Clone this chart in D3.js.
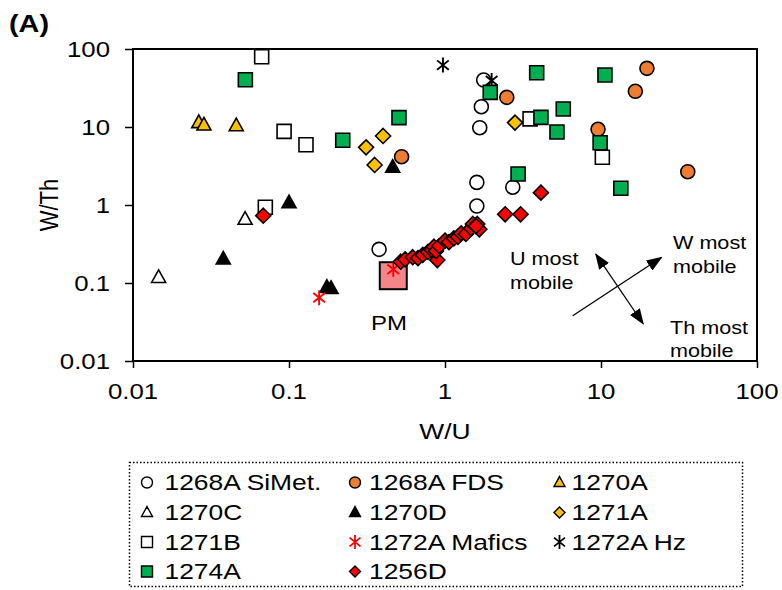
<!DOCTYPE html>
<html>
<head>
<meta charset="utf-8">
<script src="https://cdn.jsdelivr.net/npm/d3@7"></script>
<style>
  body { margin: 0; background: #fff; }
  svg { display: block; }
  text { font-family: "Liberation Sans", Arial, sans-serif; fill: #000; }
</style>
</head>
<body>
<svg id="chart" width="782" height="590"></svg>
<script>
// ---- data: [W/U, W/Th] pairs for each sample group ----
const majorTicks = [0.01, 0.1, 1, 10, 100];
const xTickLabels = ["0.01", "0.1", "1", "10", "100"];
const yTickLabels = ["0.01", "0.1", "1", "10", "100"];

const siMet1268A = [[1.77, 40], [1.71, 18.2], [1.67, 9.8], [1.6, 1.95], [2.72, 1.69], [1.6, 0.97], [0.378, 0.27]];
const fds1268A = [[0.527, 4.16], [2.49, 24], [19.7, 56.5], [16.6, 28.7], [9.57, 9.34], [36, 2.67]];
const s1270A = [[0.0264, 11.4], [0.0285, 10.6], [0.0459, 10.4]];
const s1270C = [[0.0523, 0.656], [0.0146, 0.118]];
const s1270D = [[0.1, 1.07], [0.0379, 0.203], [0.175, 0.088], [0.186, 0.085], [0.462, 3.05]];
const s1271A = [[0.401, 7.67], [0.312, 5.49], [0.354, 3.26], [2.81, 11.4]];
const s1271B = [[0.0668, 79.6], [0.093, 8.8], [0.1285, 5.93], [0.0705, 0.934], [3.51, 12.7], [10.2, 4.09]];
const mafics1272A = [[0.156, 0.0648], [0.466, 0.15]];
const hz1272A = [[0.97, 62.3], [1.99, 39.4]];
const s1274A = [[0.0525, 40.4], [0.221, 6.75], [0.507, 13.2], [1.95, 27.8], [3.87, 49.7], [4.12, 13.3],
                [5.73, 17.0], [5.22, 8.63], [10.6, 46.4], [9.87, 6.29], [2.94, 2.5], [13.4, 1.64]];
const s1256D = [[0.0684, 0.729], [0.52, 0.1875], [0.555, 0.201], [0.621, 0.214], [0.671, 0.209], [0.72, 0.229],
                [0.778, 0.25], [0.822, 0.265], [0.85, 0.292], [0.893, 0.197], [0.875, 0.257], [0.919, 0.298],
                [1.0, 0.349], [1.06, 0.335], [1.14, 0.374], [1.21, 0.389], [1.27, 0.434], [1.36, 0.425],
                [1.47, 0.503], [1.51, 0.571], [1.61, 0.571], [1.66, 0.488], [1.58, 0.538],
                [2.43, 0.76], [3.05, 0.76], [4.12, 1.44]];
const primitiveMantle = [0.466, 0.124];

const seriesNames = ["1268A SiMet.", "1268A FDS", "1270A", "1270C", "1270D", "1271A",
                     "1271B", "1272A Mafics", "1272A Hz", "1274A", "1256D"];
const seriesValues = [siMet1268A, fds1268A, s1270A, s1270C, s1270D, s1271A,
                      s1271B, mafics1272A, hz1272A, s1274A, s1256D];

// marker look per series
const seriesStyle = [
  { shape: "circle",   fill: "#ffffff" },
  { shape: "circle",   fill: "#ED7D31" },
  { shape: "triangle", fill: "#FFC000" },
  { shape: "triangle", fill: "#ffffff" },
  { shape: "triangle", fill: "#000000" },
  { shape: "diamond",  fill: "#FFC000" },
  { shape: "square",   fill: "#ffffff" },
  { shape: "star",     fill: "none", stroke: "#FF0000" },
  { shape: "star",     fill: "none", stroke: "#000000" },
  { shape: "square",   fill: "#00B050" },
  { shape: "diamond",  fill: "#FF0000" }
];

// ---- layout ----
const svg = d3.select("#chart");
const plot = { left: 133, right: 757, top: 49, bottom: 361 };
const STRETCH = 1.2;   // text is set in a slightly widened face

const x = d3.scaleLog().domain([0.01, 100]).range([plot.left, plot.right]);
const y = d3.scaleLog().domain([0.01, 100]).range([plot.bottom, plot.top]);

// minor ticks 2..9 in each decade
const minorTicks = [];
for (let d = 0; d < 4; d++) {
  for (let m = 2; m <= 9; m++) minorTicks.push(m * Math.pow(10, d - 2));
}

// widened text helper: anchor point (tx, ty), optional rotation
function label(parent, tx, ty, str, size, anchor = "start", opts = {}) {
  const g = parent.append("g")
    .attr("transform", `translate(${tx},${ty}) scale(${STRETCH},1)` + (opts.rotate ? ` rotate(${opts.rotate})` : ""));
  const t = g.append("text").attr("text-anchor", anchor).style("font-size", size + "px").text(str);
  if (opts.bold) t.style("font-weight", "bold");
  if (opts.dy) t.attr("dy", opts.dy);
  return t;
}

// ---- marker paths ----
function markerPath(shape, s) {
  const h = s / 2;
  switch (shape) {
    case "circle":
      return `M${h},0A${h},${h} 0 1,1 ${-h},0A${h},${h} 0 1,1 ${h},0Z`;
    case "square":
      return `M${-h},${-h}H${h}V${h}H${-h}Z`;
    case "diamond":
      return `M0,${-h}L${h},0L0,${h}L${-h},0Z`;
    case "triangle": {
      const th = s * 0.9;
      return `M0,${-th * 0.6}L${h},${th * 0.4}L${-h},${th * 0.4}Z`;
    }
    case "star": {
      const dx = h * 0.78, dy = h * 0.62;
      return `M0,${-h}V${h}M${-dx},${-dy}L${dx},${dy}M${dx},${-dy}L${-dx},${dy}`;
    }
  }
}

// ---- axes (tick marks from d3 axes, labels set separately) ----
const xMajor = d3.axisBottom(x).tickValues(majorTicks).tickSize(7).tickFormat("");
const xMinor = d3.axisBottom(x).tickValues(minorTicks).tickSize(5).tickFormat("");
const yMajor = d3.axisLeft(y).tickValues(majorTicks).tickSize(8).tickFormat("");
const yMinor = d3.axisLeft(y).tickValues(minorTicks).tickSize(5).tickFormat("");

const gx = svg.append("g").attr("transform", `translate(0,${plot.bottom})`);
gx.call(xMinor);
gx.call(xMajor);
const gy = svg.append("g").attr("transform", `translate(${plot.left},0)`);
gy.call(yMinor);
gy.call(yMajor);

[gx, gy].forEach(g => {
  g.selectAll(".domain").remove();
  g.selectAll("line").attr("stroke", "#000").attr("stroke-width", 1.5);
});

const tickFont = 21.5;
majorTicks.forEach((v, i) => {
  label(svg, x(v), 399, xTickLabels[i], tickFont, "middle");
  label(svg, 110, y(v), yTickLabels[i], tickFont, "end", { dy: "0.35em" });
});

// plot frame
svg.append("rect")
  .attr("x", plot.left).attr("y", plot.top)
  .attr("width", plot.right - plot.left).attr("height", plot.bottom - plot.top)
  .attr("fill", "none").attr("stroke", "#000").attr("stroke-width", 2);

// axis titles
label(svg, (plot.left + plot.right) / 2, 439, "W/U", 22, "middle");
label(svg, 58, (plot.top + plot.bottom) / 2, "W/Th", 22, "middle", { rotate: -90 });

// panel letter
label(svg, 9, 32, "(A)", 24, "start", { bold: true });

// ---- primitive mantle reference ----
svg.append("rect")
  .attr("x", x(primitiveMantle[0]) - 13.5).attr("y", y(primitiveMantle[1]) - 13.5)
  .attr("width", 27).attr("height", 27)
  .attr("fill", "#F4868A").attr("stroke", "#000").attr("stroke-width", 2);
label(svg, 389, 330, "PM", 20, "middle");

// ---- data points ----
const pts = svg.append("g");
seriesValues.forEach((vals, i) => {
  const st = seriesStyle[i];
  const size = st.shape === "diamond" ? 15 : st.shape === "star" ? 15 : 14;
  pts.append("g").selectAll("path").data(vals).join("path")
    .attr("transform", d => `translate(${x(d[0])},${y(d[1])})`)
    .attr("d", markerPath(st.shape, size))
    .attr("fill", st.fill)
    .attr("stroke", st.stroke || "#000")
    .attr("stroke-width", st.shape === "star" ? 1.9 : 1.6);
});

// ---- mobility arrows ----
const defs = svg.append("defs");
defs.append("marker").attr("id", "arrow")
  .attr("viewBox", "0 0 16 12").attr("refX", 15).attr("refY", 6)
  .attr("markerWidth", 16).attr("markerHeight", 12)
  .attr("markerUnits", "userSpaceOnUse").attr("orient", "auto-start-reverse")
  .append("path").attr("d", "M0,0L16,6L0,12Z").attr("fill", "#000");

svg.append("line").attr("x1", 572.7).attr("y1", 315.7).attr("x2", 661.7).attr("y2", 257.3)
  .attr("stroke", "#000").attr("stroke-width", 1.3).attr("marker-end", "url(#arrow)");
svg.append("line").attr("x1", 595.7).attr("y1", 254).attr("x2", 643.3).attr("y2", 324)
  .attr("stroke", "#000").attr("stroke-width", 1.3)
  .attr("marker-start", "url(#arrow)").attr("marker-end", "url(#arrow)");

const notes = [
  { x: 510, y: [265, 289], lines: ["U most", "mobile"] },
  { x: 673, y: [248.5, 272.5], lines: ["W most", "mobile"] },
  { x: 670, y: [333.5, 357], lines: ["Th most", "mobile"] }
];
notes.forEach(n => n.lines.forEach((l, k) => label(svg, n.x, n.y[k], l, 18)));

// ---- legend ----
const legend = svg.append("g");
legend.append("rect").attr("x", 129.5).attr("y", 462.5).attr("width", 613).attr("height", 124)
  .attr("fill", "none").attr("stroke", "#000").attr("stroke-width", 1.5)
  .attr("stroke-dasharray", "1.5,2");

const colX = [147, 355, 559.5];
const textX = [164.5, 369, 571.5];
const rowY = [482.5, 512.5, 542, 571.5];
seriesNames.forEach((name, i) => {
  const st = seriesStyle[i];
  const c = i % 3, cy = rowY[Math.floor(i / 3)];
  legend.append("path")
    .attr("transform", `translate(${colX[c]},${cy})`)
    .attr("d", markerPath(st.shape, st.shape === "star" ? 14 : 11))
    .attr("fill", st.fill).attr("stroke", st.stroke || "#000")
    .attr("stroke-width", st.shape === "star" ? 1.8 : 1.4);
  label(legend, textX[c], cy, name, 22, "start", { dy: "0.35em" });
});
</script>
</body>
</html>
